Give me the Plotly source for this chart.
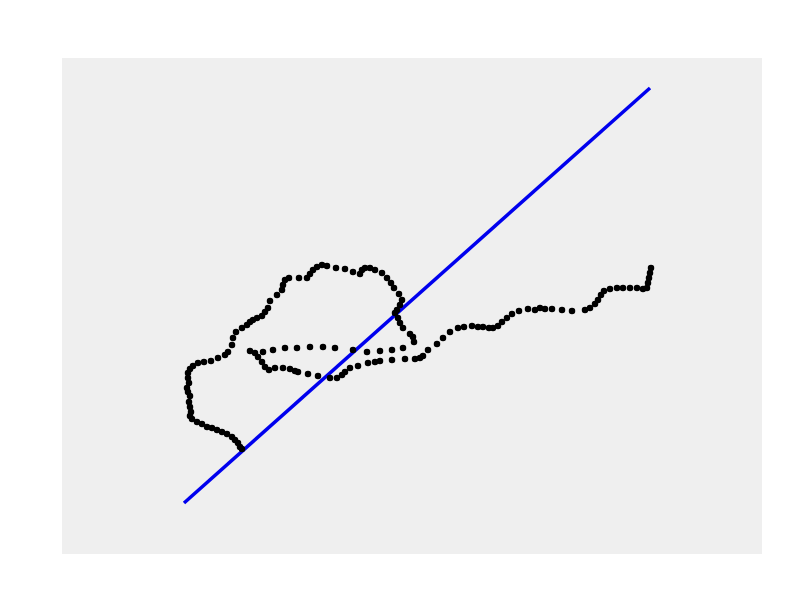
import plotly.graph_objects as go

# Track points (x, y) in plot units
track_x = [242, 240, 238, 235, 232, 227, 222, 217, 212, 207, 202, 197, 192, 190, 191, 190, 189, 190, 188, 187,
           189, 188, 188, 190, 193, 198, 204, 211, 218, 225, 228, 232, 233, 236, 242, 247, 250, 253, 257, 262,
           265, 268, 270, 277, 282, 283, 285, 289, 299, 307, 310, 313, 317, 322, 327, 336, 345, 353, 360, 362,
           365, 370, 375, 382, 387, 391, 394, 399, 402, 400, 397, 395, 398, 400, 403, 410, 414, 413,
           403, 392, 380, 367, 353, 335, 323, 310, 297, 285, 273, 263, 255, 250,
           258, 262, 265, 269, 275, 283, 290, 295, 298, 308, 318, 330, 337, 342, 345, 350, 358, 368, 375, 380,
           392, 405, 415, 420, 423, 428, 437, 443, 450, 458, 464, 472, 478, 483, 489, 493, 498, 502, 507, 512,
           519, 528, 535, 540, 545, 552, 562, 572, 585, 590, 595, 598, 601, 604, 610, 617, 623, 630, 637, 643,
           647, 648, 649, 650, 651]
track_y = [449, 447, 443, 440, 437, 434, 432, 430, 428, 427, 424, 422, 419, 416, 412, 407, 402, 396, 392, 388,
           383, 378, 373, 369, 366, 363, 362, 361, 358, 355, 352, 345, 338, 332, 328, 325, 322, 320, 318, 316,
           312, 308, 301, 295, 290, 285, 280, 278, 278, 278, 274, 270, 267, 265, 266, 268, 269, 272, 274, 270,
           268, 268, 270, 273, 278, 283, 288, 294, 300, 305, 310, 313, 318, 323, 328, 334, 342, 337,
           348, 350, 351, 352, 350, 348, 347, 347, 348, 348, 350, 352, 353, 351,
           357, 362, 367, 370, 368, 368, 369, 371, 372, 374, 376, 378, 378, 375, 372, 368, 366, 363, 362, 361,
           360, 359, 359, 358, 356, 350, 344, 338, 332, 328, 327, 326, 327, 327, 328, 328, 326, 322, 318, 314,
           311, 309, 310, 308, 309, 309, 310, 311, 310, 308, 304, 300, 295, 291, 289, 288, 288, 288, 288, 289,
           288, 283, 278, 273, 268]

# Reference line endpoints
line_x = [184, 650]
line_y = [503, 88]

H = 595
fig = go.Figure()
fig.add_trace(go.Scatter(x=line_x, y=[H - v for v in line_y], mode="lines",
                         line=dict(color="#0000ee", width=3.5), showlegend=False, hoverinfo="skip"))
fig.add_trace(go.Scatter(x=track_x, y=[H - v for v in track_y], mode="markers",
                         marker=dict(color="black", size=6.5), showlegend=False))

fig.update_layout(
    width=800, height=595,
    margin=dict(l=62, r=38, t=58, b=41),
    paper_bgcolor="white", plot_bgcolor="#efefef",
    xaxis=dict(range=[62, 762], showgrid=False, zeroline=False, showticklabels=False, ticks=""),
    yaxis=dict(range=[H - 554, H - 58], showgrid=False, zeroline=False, showticklabels=False, ticks=""),
)
fig.write_html("out.html")
